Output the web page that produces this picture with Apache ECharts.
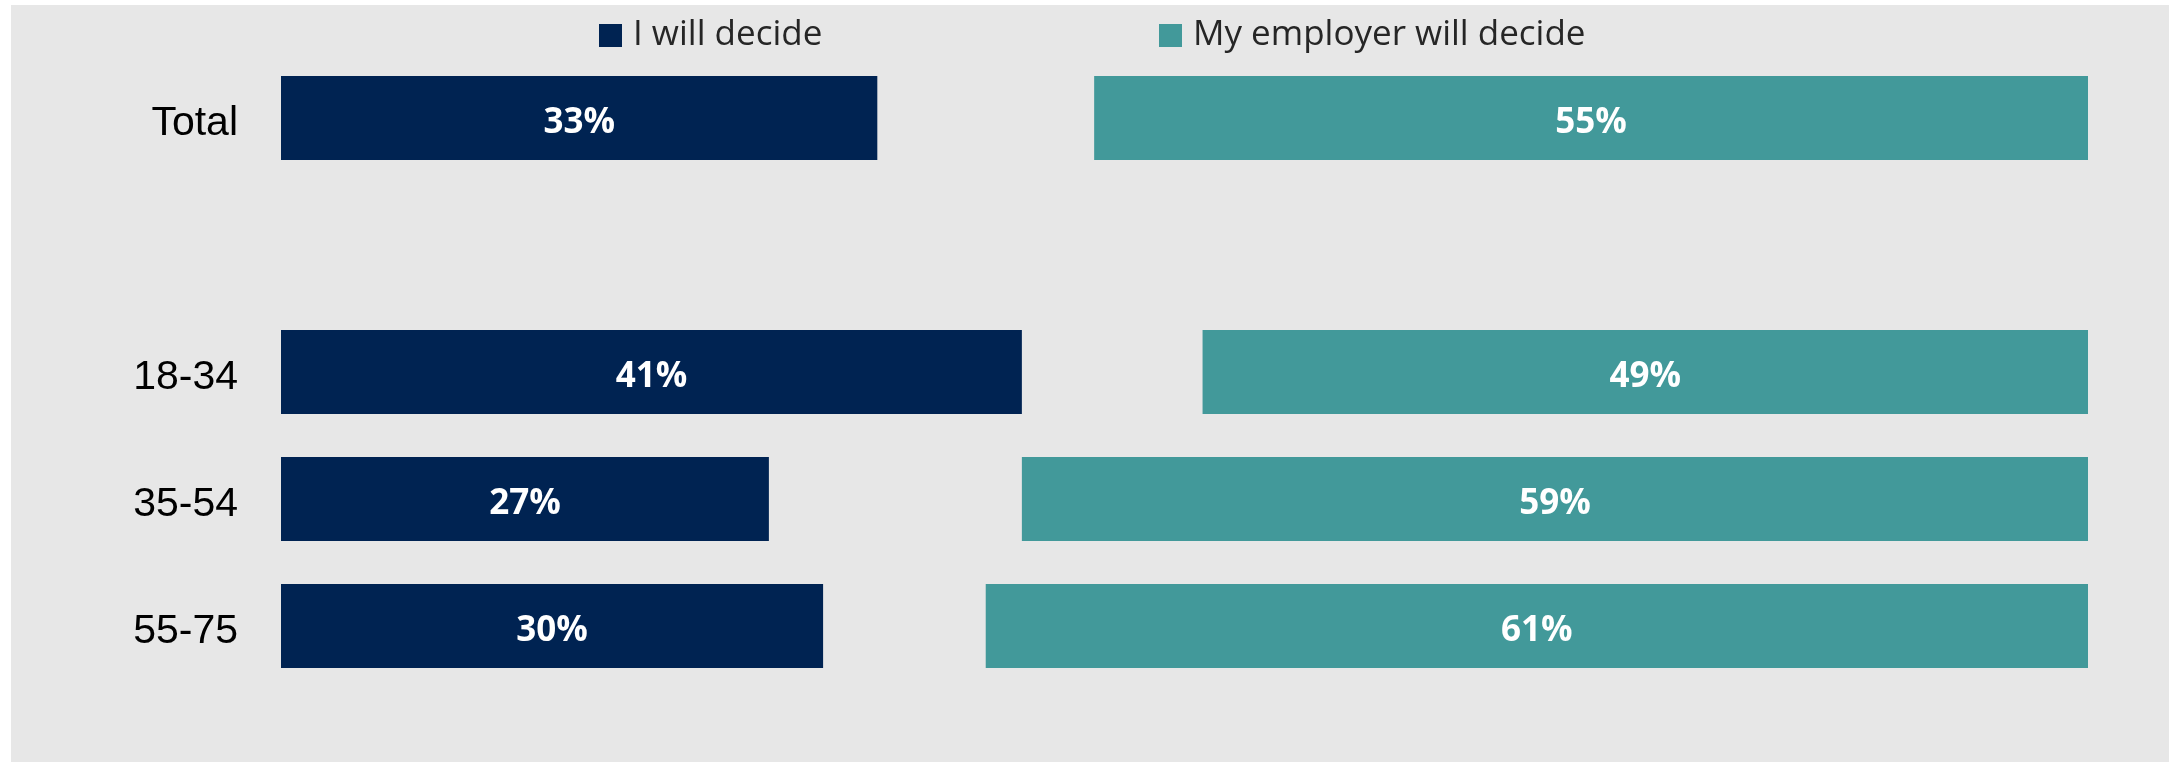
<!DOCTYPE html>
<html>
<head>
<meta charset="utf-8">
<script src="https://cdn.jsdelivr.net/npm/echarts@6/dist/echarts.min.js"></script>
<style>
html,body{margin:0;padding:0;background:#ffffff;}
#chart{width:2169px;height:762px;}
</style>
</head>
<body>
<div id="chart"></div>
<script>
const categories = ['Total', '', '18-34', '35-54', '55-75'];
const selfValues = [33, null, 41, 27, 30];
const employerValues = [55, null, 49, 59, 61];
const seriesNames = ['I will decide', 'My employer will decide'];
const colors = ['#002352', '#42999a'];

const chart = echarts.init(document.getElementById('chart'));
const legendText = {color: '#262626', fontSize: 35, fontFamily: 'Open Sans', lineHeight: 23, padding: [0, 0, 0, 6]};
const barLabel = {show: true, position: 'inside', offset: [0, 5], formatter: '{c}%', color: '#ffffff', fontWeight: 'bold', fontSize: 35, fontFamily: 'Open Sans'};
chart.setOption({
  backgroundColor: '#e7e7e7',
  animation: false,
  graphic: [
    {type: 'rect', left: 0, top: 0, shape: {width: 11, height: 762}, style: {fill: '#ffffff'}, z: 100},
    {type: 'rect', left: 0, top: 0, shape: {width: 2169, height: 5}, style: {fill: '#ffffff'}, z: 100}
  ],
  legend: [
    {data: [seriesNames[0]], left: 594, top: 13, itemWidth: 23, itemHeight: 23, icon: 'rect', textStyle: legendText},
    {data: [seriesNames[1]], left: 1154, top: 13, itemWidth: 23, itemHeight: 23, icon: 'rect', textStyle: legendText}
  ],
  grid: {left: 281, right: 81, top: 54.5, bottom: 72.5, containLabel: false},
  xAxis: [
    {type: 'value', min: 0, max: 100, show: false},
    {type: 'value', min: 0, max: 100, show: false, inverse: true}
  ],
  yAxis: {
    type: 'category', inverse: true, data: categories,
    axisLine: {show: false}, axisTick: {show: false}, splitLine: {show: false},
    axisLabel: {
      margin: 43,
      formatter: function (v) { return v ? '{l|' + v + '}' : ''; },
      rich: {l: {color: '#000000', fontSize: 41, fontFamily: 'Liberation Sans', padding: [12, 0, 0, 0]}}
    }
  },
  series: [
    {
      name: seriesNames[0], type: 'bar', xAxisIndex: 0, data: selfValues,
      barWidth: 84, barGap: '-100%',
      itemStyle: {color: colors[0]},
      label: barLabel
    },
    {
      name: seriesNames[1], type: 'bar', xAxisIndex: 1, data: employerValues,
      barWidth: 84, barGap: '-100%',
      itemStyle: {color: colors[1]},
      label: barLabel
    }
  ]
});
</script>
</body>
</html>
